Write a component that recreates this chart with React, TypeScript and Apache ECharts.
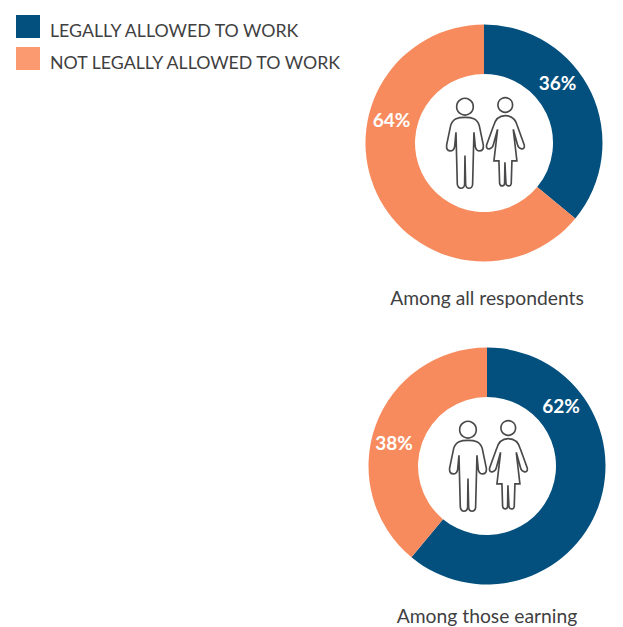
import React, { useEffect, useRef } from "react";
import * as echarts from "echarts";

const categories = ["LEGALLY ALLOWED TO WORK", "NOT LEGALLY ALLOWED TO WORK"];
const allRespondents = [36, 64];
const allRespondentsLabels = ["36%", "64%"];
const earners = [61, 39];
const earnersLabels = ["62%", "38%"];
const titles = ["Among all respondents", "Among those earning"];
const BLUE = "#03507e";
const ORANGE = "#f78b5e";
const TEXT = "#3f3f42";
const FONT = "Lato, 'Open Sans', sans-serif";

const manD =
  "M105,97 C85,97 68,100 62,122 L50,180 Q48,197 60,198 Q72,198 74,185 L78,142 L82,298 Q84,310 93,310 Q103,310 104,298 L105,212 L107,298 Q108,310 117,310 Q127,310 128,298 L132,142 L136,185 Q138,198 150,198 Q162,197 160,180 L148,122 C142,100 125,97 105,97 Z";
const womanD =
  "M226,92 C205,92 195,105 190,125 L170,180 Q168,192 178,192 Q188,190 190,180 L203,133 L192,228 L207,228 L209,295 Q211,304 217,303 Q224,303 224,295 L225,232 L228,295 Q229,303 236,303 Q243,304 244,295 L246,228 L261,228 L250,133 L263,180 Q265,190 275,192 Q285,192 283,180 L263,125 C258,105 247,92 226,92 Z";

echarts.graphic.registerShape("manIcon", echarts.graphic.extendPath(manD, {}));
echarts.graphic.registerShape("womanIcon", echarts.graphic.extendPath(womanD, {}));

const iconStyle = { fill: "none", stroke: "#4a4a4c", lineWidth: 5 };
const icons = (x: number, y: number) => ({
  type: "group",
  x,
  y,
  silent: true,
  scaleX: 1 / 3,
  scaleY: 1 / 3,
  children: [
    { type: "manIcon", style: iconStyle },
    { type: "womanIcon", style: iconStyle },
    { type: "circle", shape: { cx: 105, cy: 65, r: 25 }, style: iconStyle },
    { type: "circle", shape: { cx: 226, cy: 60, r: 22 }, style: iconStyle },
  ],
});

const donut = (
  center: [number, number],
  values: number[],
  labels: string[],
  offsets: [number, number][]
) => ({
  type: "pie",
  center,
  radius: [69, 118.5],
  startAngle: 90,
  clockwise: true,
  silent: true,
  avoidLabelOverlap: false,
  labelLine: { show: false },
  data: values.map((value, i) => ({
    value,
    name: categories[i],
    itemStyle: { color: i === 0 ? BLUE : ORANGE },
    label: {
      show: true,
      position: "inside",
      formatter: labels[i],
      offset: offsets[i],
      color: "#ffffff",
      fontFamily: FONT,
      fontWeight: "bold",
      fontSize: 19,
    },
  })),
});

export default function App() {
  const ref = useRef<HTMLDivElement>(null);
  useEffect(() => {
    document.body.style.margin = "0";
    const chart = echarts.init(ref.current!, undefined, { renderer: "svg" });
    chart.setOption({
      animation: false,
      backgroundColor: "#ffffff",
      legend: {
        left: 16,
        top: 14,
        padding: 0,
        orient: "vertical",
        itemWidth: 24,
        itemHeight: 23,
        itemGap: 7,
        selectedMode: false,
        icon: "rect",
        data: [
          { name: categories[0], itemStyle: { color: BLUE } },
          { name: categories[1], itemStyle: { color: "#fb9a70" } },
        ],
        formatter: "{t|{name}}",
        textStyle: {
          color: TEXT,
          fontFamily: FONT,
          fontSize: 17.75,
          rich: {
            t: {
              color: TEXT,
              fontFamily: FONT,
              fontSize: 17.75,
              lineHeight: 20,
              padding: [7, 0, 0, 5],
            },
          },
        },
      },
      title: [
        {
          text: titles[0],
          left: 487,
          top: 288,
          padding: 0,
          textAlign: "center",
          textStyle: { color: TEXT, fontFamily: FONT, fontSize: 19.3, fontWeight: "normal" },
        },
        {
          text: titles[1],
          left: 487,
          top: 606,
          padding: 0,
          textAlign: "center",
          textStyle: { color: TEXT, fontFamily: FONT, fontSize: 19.3, fontWeight: "normal" },
        },
      ],
      series: [
        donut([484, 143], allRespondents, allRespondentsLabels, [[-14, -19], [-5, -65]]),
        donut([487, 466], earners, earnersLabels, [[-17, -93], [-2, 9]]),
      ],
      graphic: [icons(430, 85), icons(433, 408)],
    });
    return () => chart.dispose();
  }, []);
  return <div ref={ref} style={{ position: "absolute", left: 0, top: 0, width: 623, height: 627 }} />;
}
